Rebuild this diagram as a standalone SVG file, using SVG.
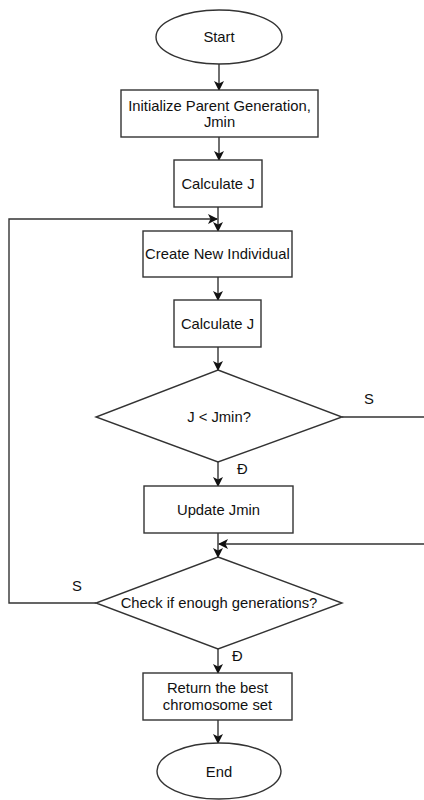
<svg xmlns="http://www.w3.org/2000/svg" width="424" height="800" viewBox="0 0 424 800">
  <style>
    .shape { fill: #ffffff; stroke: #333333; stroke-width: 1.4; }
    .edge { fill: none; stroke: #333333; stroke-width: 1.4; marker-end: url(#arrow); }
    .label { font-family: "Liberation Sans", Arial, sans-serif; font-size: 14.8px; fill: #111111; text-anchor: middle; }
    .tag { font-family: "Liberation Sans", Arial, sans-serif; font-size: 14.8px; fill: #111111; }
  </style>
  <defs>
    <marker id="arrow" viewBox="0 0 10 10" refX="9" refY="5" markerWidth="10" markerHeight="10" markerUnits="userSpaceOnUse" orient="auto">
      <path d="M0,0 L10,5 L0,10 L2.5,5 z" fill="#111111"/>
    </marker>
  </defs>
  <rect width="424" height="800" fill="#ffffff"/>

  <g id="connectors">
    <path class="edge" d="M219,63 V90"/>
    <path class="edge" d="M219,137 V160"/>
    <path class="edge" d="M218,207 V231"/>
    <path class="edge" d="M218,277 V300"/>
    <path class="edge" d="M218,347 V370"/>
    <path class="edge" d="M218,462 V486"/>
    <path class="edge" d="M218,533 V557"/>
    <path class="edge" d="M218,649 V673"/>
    <path class="edge" d="M218,720 V743"/>
    <!-- "no" branch of J < Jmin: out to the right, back in above the generation check -->
    <path class="edge" d="M342,417 H440 V544 H219"/>
    <!-- "no" branch of the generation check: loop back to Create New Individual -->
    <path class="edge" d="M96,603 H9 V219 H217"/>
  </g>

  <g id="start">
    <ellipse class="shape" cx="219" cy="37" rx="63" ry="27"/>
    <text class="label" x="219" y="42">Start</text>
  </g>

  <g id="init">
    <rect class="shape" x="121" y="90" width="197" height="47"/>
    <text class="label" x="219.5" y="111">Initialize Parent Generation,</text>
    <text class="label" x="219.5" y="127">Jmin</text>
  </g>

  <g id="calc1">
    <rect class="shape" x="174" y="160" width="88" height="47"/>
    <text class="label" x="218" y="189">Calculate J</text>
  </g>

  <g id="create">
    <rect class="shape" x="143" y="231" width="149" height="46"/>
    <text class="label" x="217.5" y="258.5">Create New Individual</text>
  </g>

  <g id="calc2">
    <rect class="shape" x="174" y="300" width="87" height="47"/>
    <text class="label" x="217.5" y="328.5">Calculate J</text>
  </g>

  <g id="check-jmin">
    <polygon class="shape" points="218,370 342,417 218,462 96,417"/>
    <text class="label" x="219" y="422">J &lt; Jmin?</text>
  </g>

  <g id="update">
    <rect class="shape" x="144" y="486" width="149" height="47"/>
    <text class="label" x="218.5" y="515">Update Jmin</text>
  </g>

  <g id="check-gen">
    <polygon class="shape" points="218,557 342,603 218,649 96,603"/>
    <text class="label" x="219" y="608">Check if enough generations?</text>
  </g>

  <g id="return">
    <rect class="shape" x="143" y="673" width="149" height="47"/>
    <text class="label" x="217.5" y="693">Return the best</text>
    <text class="label" x="217.5" y="709.5">chromosome set</text>
  </g>

  <g id="end">
    <ellipse class="shape" cx="219" cy="771" rx="62" ry="28"/>
    <text class="label" x="219" y="777">End</text>
  </g>

  <g id="edge-labels">
    <text class="tag" x="364" y="404">S</text>
    <text class="tag" x="237" y="474">Đ</text>
    <text class="tag" x="72" y="591">S</text>
    <text class="tag" x="232" y="661">Đ</text>
  </g>
</svg>
